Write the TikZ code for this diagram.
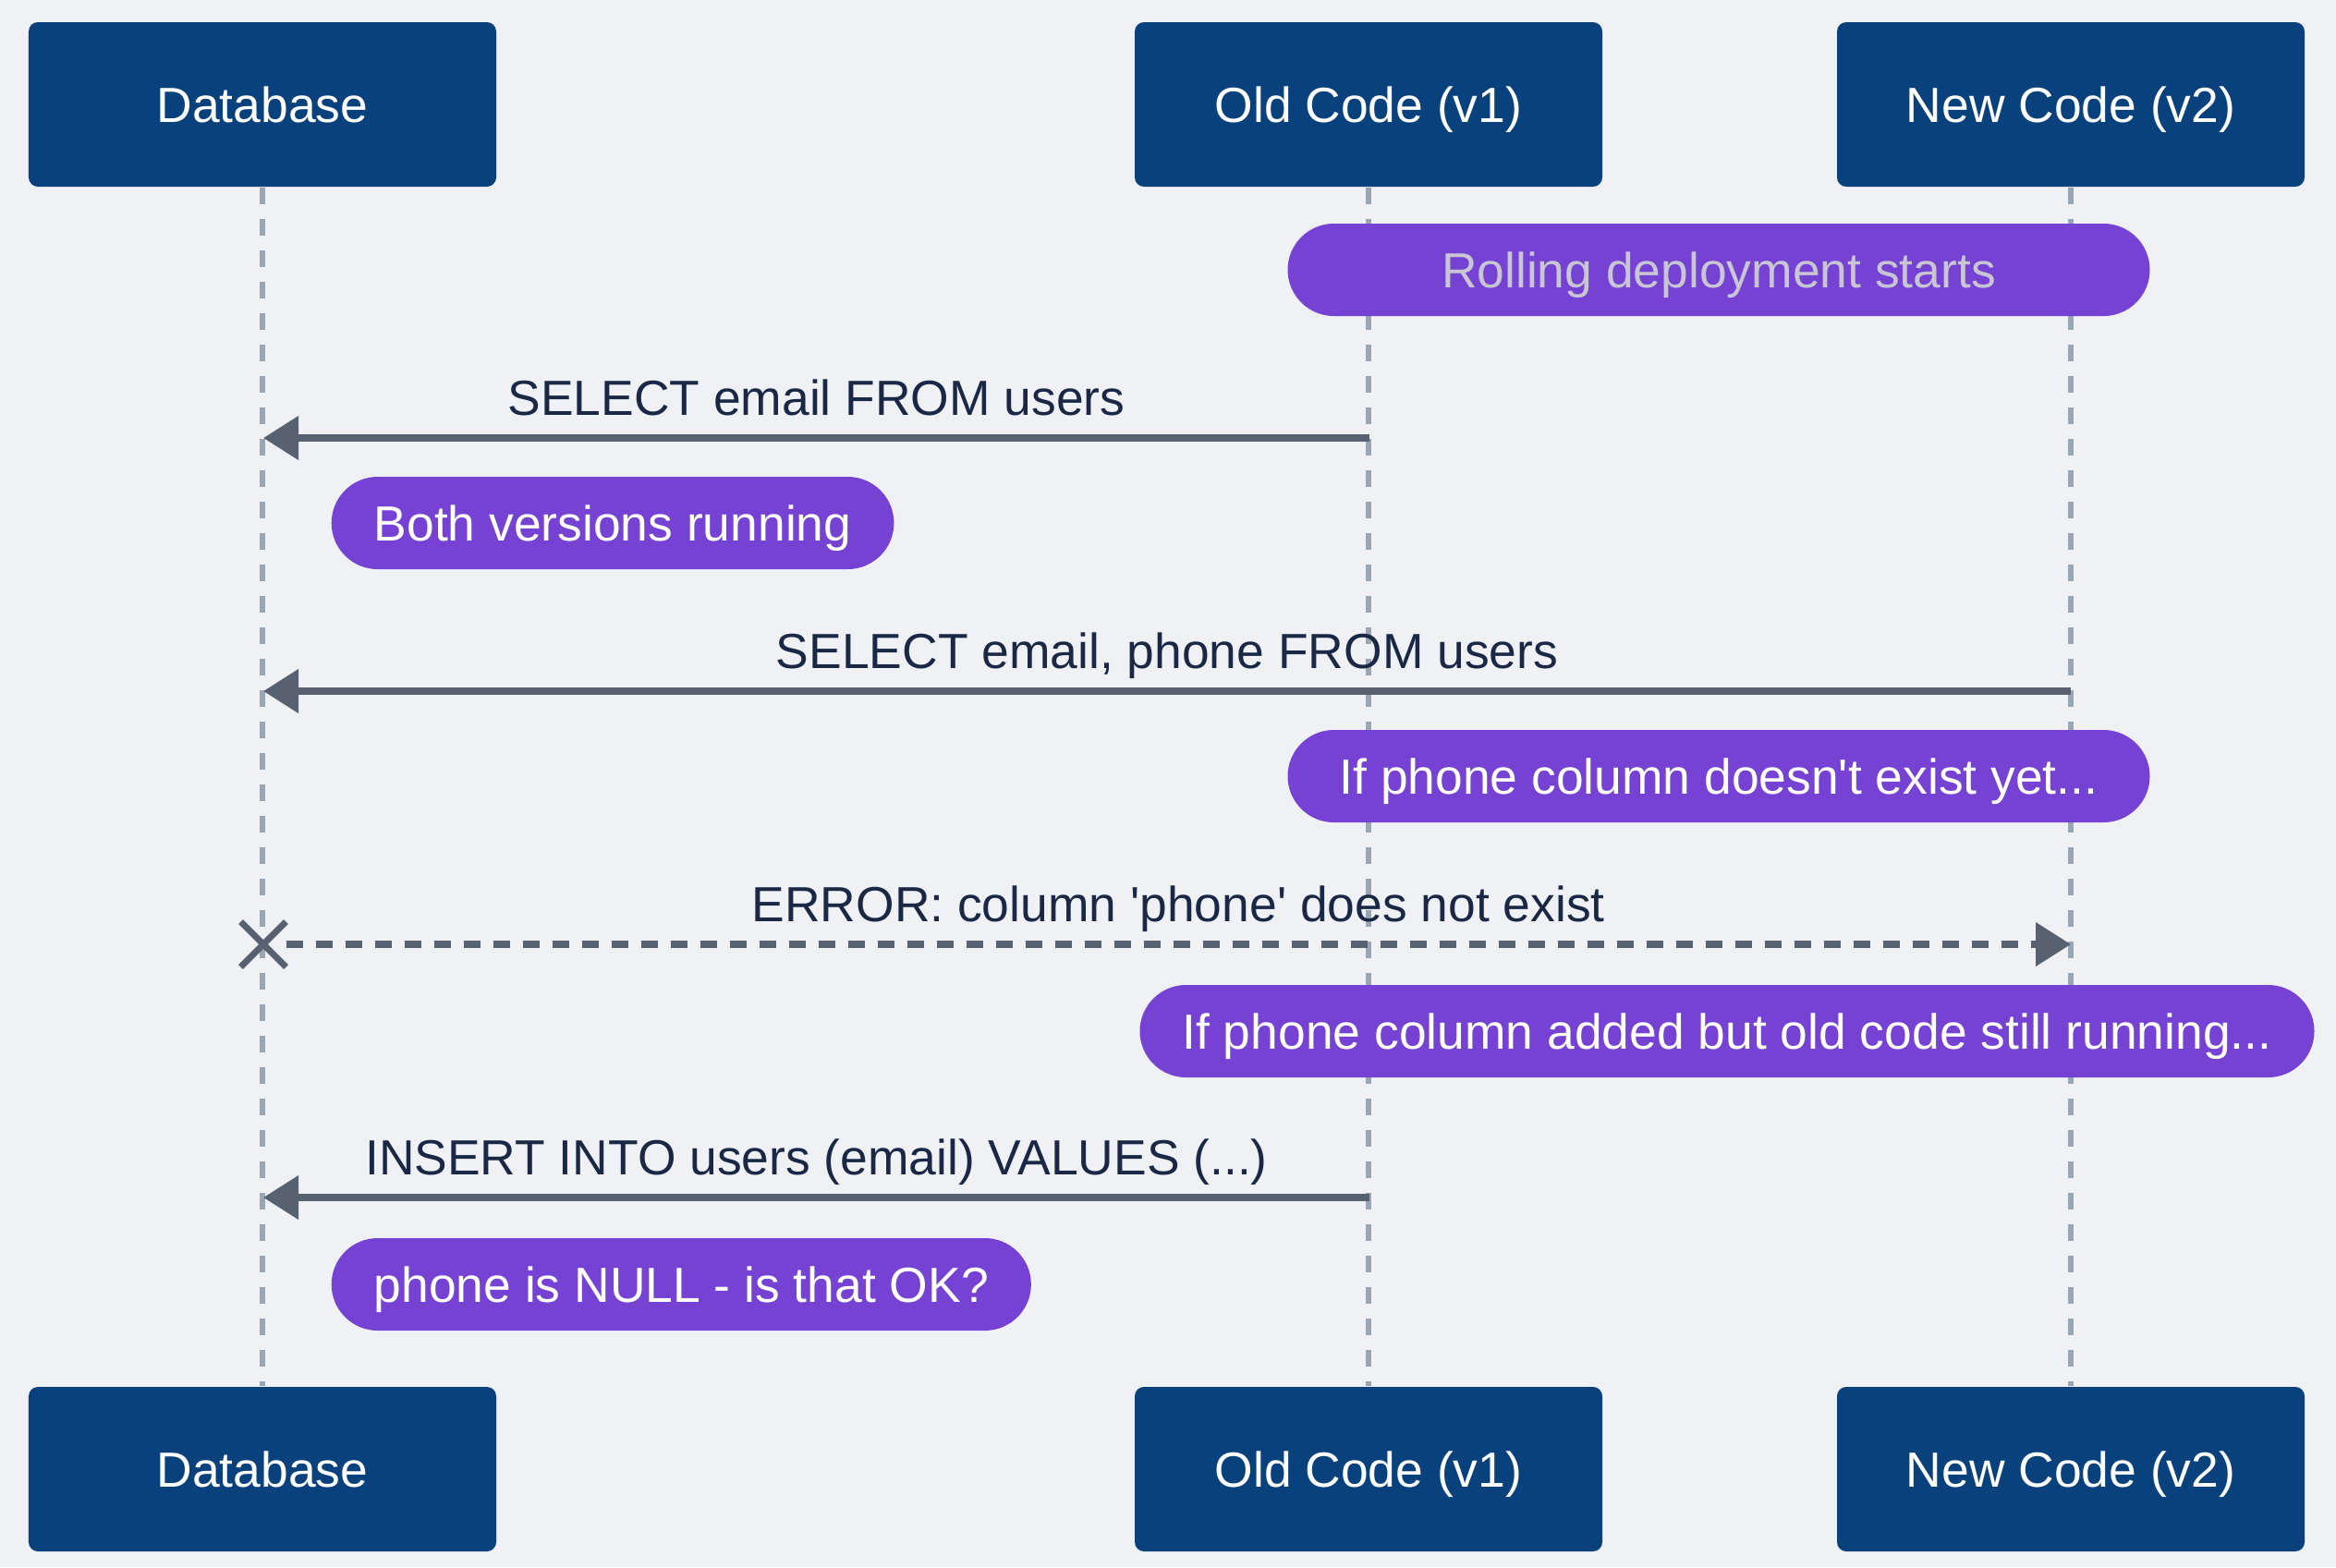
\documentclass[tikz,border=0pt]{standalone}
\usepackage{fontspec}
\setmainfont{Liberation Sans}
\definecolor{pagebg}{RGB}{239,241,245}
\definecolor{actorblue}{RGB}{9,65,125}
\definecolor{notepurple}{RGB}{118,66,212}
\definecolor{lifegray}{RGB}{155,166,181}
\definecolor{msggray}{RGB}{88,97,112}
\definecolor{labelnavy}{RGB}{26,40,70}
\definecolor{fadedtext}{RGB}{200,198,212}
\usetikzlibrary{arrows.meta, positioning, shapes.misc}
\newcommand{\diafont}{\fontsize{15.2pt}{18pt}\selectfont}

\begin{document}
\begin{tikzpicture}[
  actor/.style={fill=actorblue, rounded corners=1mm, minimum width=5.06cm, minimum height=1.78cm, text=white, font=\diafont, text height=10.9pt, text depth=0pt},
  note/.style={fill=notepurple, rounded corners=5mm, minimum height=1cm, inner xsep=4.6mm, text=white, font=\diafont, text height=10.9pt, text depth=0pt},
  wide/.style={minimum width=9.33cm},
  lifeline/.style={draw=lifegray, line width=0.55mm, dash pattern=on 1.8mm off 1.6mm},
  msg/.style={draw=msggray, line width=0.75mm, -{Triangle[length=3.8mm, width=4.6mm]}},
  reply/.style={msg, dash pattern=on 1.8mm off 1.4mm},
  msglabel/.style={text=labelnavy, font=\diafont, anchor=base, yshift=2.5mm},
  xmark/.style={draw=msggray, cross out, line width=0.7mm, minimum size=4.2mm, inner sep=0pt}
]
  \fill[pagebg] (0,0) rectangle (25.28,-16.96);

  \node[actor] (dbTop) at (2.84,-1.13) {Database};
  \node[actor] (oldTop) at (14.81,-1.13) {Old Code (v1)};
  \node[actor] (newTop) at (22.41,-1.13) {New Code (v2)};
  \node[actor] (dbBot) at (2.84,-15.90) {Database};
  \node[actor] (oldBot) at (14.81,-15.90) {Old Code (v1)};
  \node[actor] (newBot) at (22.41,-15.90) {New Code (v2)};

  \draw[lifeline] (dbTop) -- (dbBot);
  \draw[lifeline] (oldTop) -- (oldBot);
  \draw[lifeline] (newTop) -- (newBot);

  \node[note, wide, text=fadedtext] (rolling) at (18.60,-2.92) {Rolling deployment starts};

  \coordinate (old1) at (14.82,-4.74);
  \coordinate (db1) at (2.85,-4.74);
  \draw[msg] (old1) -- node[msglabel] {SELECT email FROM users} (db1);

  \node[note, anchor=west] (both) at (3.58,-5.66) {Both versions running};

  \coordinate (new2) at (22.41,-7.48);
  \coordinate (db2) at (2.85,-7.48);
  \draw[msg] (new2) -- node[msglabel] {SELECT email, phone FROM users} (db2);

  \node[note, wide] (missing) at (18.60,-8.40) {If phone column doesn\textquotesingle t exist yet...};

  \node[xmark] (lost) at (2.85,-10.22) {};
  \coordinate (new3) at (22.41,-10.22);
  \draw[reply] (lost) -- node[msglabel] {ERROR: column \textquotesingle phone\textquotesingle{} does not exist} (new3);

  \node[note] (added) at (18.69,-11.16) {If phone column added but old code still running...};

  \coordinate (old4) at (14.82,-12.96);
  \coordinate (db4) at (2.85,-12.96);
  \draw[msg] (old4) -- node[msglabel] {INSERT INTO users (email) VALUES (...)} (db4);

  \node[note, anchor=west] (nullnote) at (3.58,-13.90) {phone is NULL - is that OK?};
\end{tikzpicture}
\end{document}
